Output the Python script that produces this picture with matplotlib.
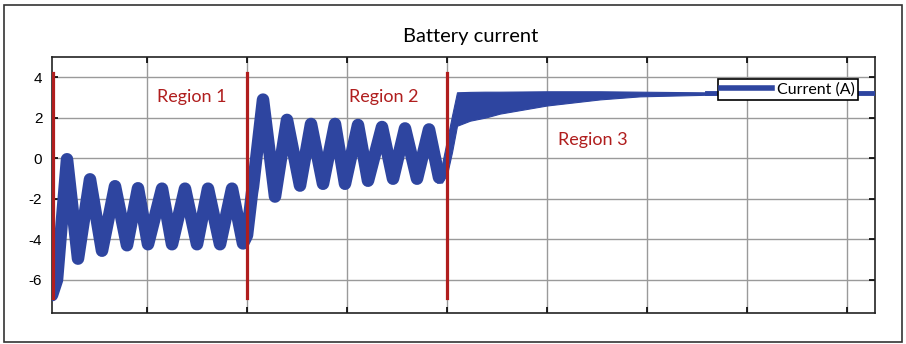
import numpy as np
import matplotlib
matplotlib.use('Agg')
import matplotlib.pyplot as plt
from matplotlib.patches import Rectangle
from matplotlib.lines import Line2D

# centre line of the oscillating part (regions 1 and 2), peaks and troughs
t_osc = [0.05, 0.10, 0.20, 0.31, 0.43, 0.55, 0.68, 0.80, 0.91, 1.01, 1.15, 1.25,
         1.38, 1.50, 1.61, 1.73, 1.85, 1.96, 2.00, 2.05, 2.06, 2.16, 2.28, 2.40,
         2.53, 2.64, 2.76, 2.88, 2.98, 3.11, 3.21, 3.35, 3.46, 3.58, 3.70, 3.82, 3.92]
i_osc = [-6.75, -6.0, -0.05, -4.95, -1.04, -4.56, -1.38, -4.29, -1.48, -4.24, -1.5, -4.24,
         -1.5, -4.24, -1.5, -4.24, -1.5, -4.2, -3.8, -1.7, -1.4, 2.89, -1.89, 1.89,
         -1.35, 1.69, -1.26, 1.69, -1.26, 1.64, -1.11, 1.54, -1.01, 1.47, -1.01, 1.42, -0.95]

# ripple band going into region 3
t_band = [3.90, 3.95, 4.00, 4.05, 4.10, 4.23, 4.38, 4.53, 5.00, 5.53, 5.93, 6.53, 6.80]
lo_band = [-1.2, -1.2, -0.8, 0.3, 1.6, 1.85, 2.0, 2.2, 2.6, 2.9, 3.05, 3.12, 3.16]
hi_band = [-0.3, -0.3, 0.9, 2.1, 3.25, 3.27, 3.28, 3.28, 3.3, 3.3, 3.28, 3.25, 3.24]

# settled current
t_flat = [6.60, 8.28]
i_flat = [3.2, 3.2]

region_lines = [0.06, 2.0, 4.0]
region_labels = ['Region 1', 'Region 2', 'Region 3']
region_label_pos = [(1.45, 3.0), (3.37, 3.0), (5.46, 0.9)]

yticks = [-6, -4, -2, 0, 2, 4]
xticks = [1, 2, 3, 4, 5, 6, 7, 8]

blue = '#2E45A0'
red = '#B01E1E'

fig = plt.figure(figsize=(9.06, 3.44), dpi=100)
fig.patches.append(Rectangle((0.004, 0.006), 0.992, 0.98, transform=fig.transFigure,
                             fill=False, edgecolor='#333333', linewidth=1.2))
ax = fig.add_axes([0.0574, 0.0901, 0.9084, 0.7442])

ax.plot(t_osc, i_osc, color=blue, lw=9, solid_joinstyle='round', solid_capstyle='round', zorder=3)
ax.fill_between(t_band, lo_band, hi_band, color=blue, lw=0.8, edgecolor=blue, zorder=3)
ax.plot(t_flat, i_flat, color=blue, lw=3.5, zorder=3)

for x in region_lines:
    ax.plot([x, x], [-6.9, 4.2], color=red, lw=2.3, zorder=4)
for lab, (x, y) in zip(region_labels, region_label_pos):
    ax.text(x, y, lab, color=red, fontsize=13, family='Lato', ha='center', va='center', zorder=5)

ax.set_xlim(0.05, 8.28)
ax.set_ylim(-7.63, 4.99)
ax.set_xticks(xticks)
ax.set_xticklabels([])
ax.set_yticks(yticks)
ax.set_yticklabels([str(v) for v in yticks], family='Liberation Sans', fontsize=11)
ax.tick_params(direction='in', length=4, width=1.2, top=True, right=True, pad=7)
ax.grid(True, color='#9a9a9a', lw=1.0)
ax.set_axisbelow(True)
for s in ax.spines.values():
    s.set_linewidth(1.2)
    s.set_color('#222222')

handle = Line2D([], [], color=blue, lw=4)
leg = ax.legend([handle], ['Current (A)'], loc='upper right', bbox_to_anchor=(0.979, 0.914),
                borderaxespad=0, fancybox=False, framealpha=1, edgecolor='black',
                handlelength=3.2, handletextpad=0.3, borderpad=0.2,
                prop={'family': 'Lato', 'size': 11.5})
leg.get_frame().set_linewidth(1.2)
leg.set_zorder(6)

fig.text(0.52, 0.895, 'Battery current', ha='center', va='center', fontsize=14.5, family='Lato')

fig.savefig('out.png', dpi=100)
